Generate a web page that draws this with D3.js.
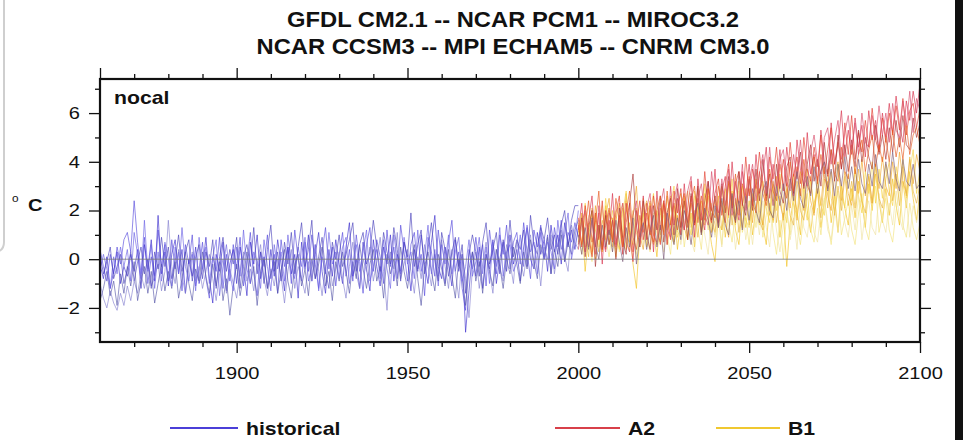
<!DOCTYPE html>
<html>
<head>
<meta charset="utf-8">
<script src="https://cdn.jsdelivr.net/npm/d3@7"></script>
<style>
  body { margin: 0; background: #fff; }
  svg { display: block; font-family: "Liberation Sans", Arial, Helvetica, sans-serif; }
</style>
</head>
<body>
<div id="container"></div>
<script>
var w = 963,
    h = 440;

// text in the picture is a bit wider than a normal sans, stretch it
var SX = 1.18;

var titleLines = ['GFDL CM2.1 -- NCAR PCM1 -- MIROC3.2', 'NCAR CCSM3 -- MPI ECHAM5 -- CNRM CM3.0'];
var regionName = 'nocal';
var legendNames = ['historical', 'A2', 'B1'];

var histYears = d3.range(1860, 2001);
var futYears = d3.range(2000, 2101);

// ---- historical runs, 1860..2000 (one row per decade)
var histGfdl = [
  0.4, -0.3, -0.9, 0.2, -0.6, 0.5, -0.2, 0.8, 1.1, 0.3,
  2.4, 0.7, -0.6, 0.9, -1.0, 0.1, -0.7, 1.2, -0.3, 0.6,
  -0.9, 0.8, -0.4, 0.3, -1.3, 0.6, -0.2, 1.0, -1.1, -0.4,
  0.7, -0.8, -1.6, 0.1, -0.5, 0.9, -1.2, 0.2, -0.9, 0.6,
  -0.4, 0.9, -1.1, -0.2, 1.1, -0.6, -1.5, 0.3, -0.3, 1.0,
  -0.8, 0.2, -1.4, 0.8, -0.3, 0.5, -1.0, 1.2, 0.0, -0.9,
  0.7, -0.5, 1.0, -0.2, -1.2, 0.3, 1.3, -0.4, 0.5, -1.1,
  0.2, 1.1, -0.7, 0.4, -0.9, 1.0, -0.1, -1.4, 0.6, 1.3,
  -0.5, 0.8, 0.1, -1.0, 1.2, -0.3, 0.5, -0.8, 1.4, 0.3,
  -0.9, 0.6, 1.1, -0.4, 0.2, -1.5, 0.9, 0.3, -0.7, 1.2,
  -0.1, -1.0, 0.7, 1.6, -0.5, 0.3, -1.2, -2.1, 0.4, -0.4,
  0.9, -0.3, 0.6, -1.1, 1.2, 0.1, -0.6, 1.0, 0.2, 1.4,
  -0.4, 0.7, 1.1, -0.2, 1.5, 0.3, -0.8, 1.2, 0.5, 1.4,
  0.1, 1.0, -0.6, 1.3, 0.5, 1.6, -0.1, 1.1, 0.7, 1.5,
  0.9
];
var histPcm = [
  -0.2, -0.8, 0.1, -1.2, -0.5, 0.3, -1.0, -0.3, -0.7, 0.2,
  -0.5, 0.4, -1.2, 0.6, -0.4, 0.8, -0.9, 1.8, -0.6, 0.3,
  -1.1, 0.2, 0.8, -0.6, 0.4, -1.4, 0.0, -0.7, 0.5, -1.0,
  -0.4, 0.9, -0.8, -1.8, 0.2, -0.5, 0.7, -1.3, -0.2, 0.4,
  -1.0, 0.5, -0.3, -1.5, 0.7, -0.2, 1.0, -0.8, 0.1, -1.2,
  0.4, -0.7, 0.8, -0.2, -1.3, 0.5, -0.6, 0.2, -1.6, 0.7,
  -0.4, 1.0, -0.9, 0.2, 1.1, -0.5, -1.4, 0.4, -0.7, 0.8,
  -0.2, -1.0, 0.5, 1.5, -0.7, 0.0, -1.2, 0.7, -0.4, -1.3,
  0.8, -0.3, -1.1, 0.5, -0.2, 1.0, -0.9, 0.2, -0.5, 0.7,
  0.0, -1.3, 0.4, -0.5, 1.0, -0.2, -1.0, 0.7, 1.8, -0.3,
  -0.8, 0.5, -0.2, -1.1, 0.8, -0.5, 0.2, -3.0, -1.3, 0.3,
  -0.7, 0.5, -1.2, 0.2, -0.4, 0.8, -1.0, 0.0, 0.7, -0.5,
  1.0, -0.2, 0.4, -0.9, 0.5, 1.3, 0.0, -0.4, 1.1, 0.2,
  0.8, -0.5, 1.4, 0.3, 1.0, -0.2, 1.5, 0.6, 1.2, 0.4,
  1.3
];
var histMiroc = [
  -1.0, -1.6, -2.0, -1.3, -1.8, -2.1, -1.4, -1.9, -1.1, -1.7,
  -0.9, -1.4, -0.6, -1.2, -0.3, -1.1, -0.7, -0.2, -1.3, -0.5,
  1.6, -0.3, -1.0, 0.4, -0.7, -1.4, -0.4, 0.3, -0.9, -0.3,
  -1.2, -0.5, 0.2, -0.8, -1.7, -0.6, 0.0, -1.4, -0.4, -1.0,
  -1.6, -0.5, 0.3, -0.9, -0.4, -1.3, -0.2, 0.6, -0.8, -1.5,
  -0.4, -1.1, 0.0, -0.7, -1.8, -0.5, 0.4, -1.2, -0.3, -0.8,
  -1.4, -0.1, -0.9, 0.6, -0.5, -1.5, -0.3, 0.2, -1.1, -0.4,
  0.3, -0.8, -1.6, -0.3, 0.7, -0.6, -1.2, 0.0, -0.5, 0.5,
  -0.9, -0.1, 0.9, -0.5, -2.1, 0.3, -0.4, 1.1, -0.8, -0.2,
  0.4, -0.5, -1.4, 0.1, -0.8, 0.6, -0.3, -1.1, 0.2, -0.7,
  0.8, -0.3, -1.2, 0.4, -0.5, -1.6, 0.2, -0.8, -2.4, -0.4,
  0.3, -1.2, -0.2, 0.7, -0.5, -1.4, 0.4, -0.3, -0.9, 0.6,
  -0.1, -1.0, 0.7, 0.0, -0.7, 0.3, 1.0, -0.4, 0.2, -1.1,
  0.5, 0.0, 1.0, -0.6, 0.4, 1.2, 0.1, -0.5, 1.4, 0.7,
  0.4
];
var histCcsm = [
  -1.7, -1.2, -0.5, -1.5, -0.9, -1.9, -0.6, -1.4, -0.3, -1.1,
  -0.1, -1.7, -0.9, -0.3, -1.4, -0.5, -1.8, -1.0, -0.2, -1.3,
  -0.5, -1.2, -0.1, -1.6, -0.8, 0.3, -1.0, -1.7, -0.4, -0.9,
  0.3, -0.7, -1.4, -0.2, -1.1, -0.1, -1.7, -0.8, -2.3, -1.1,
  -0.2, -1.5, -0.7, 0.3, -1.0, -0.3, -1.9, -0.5, 0.0, -1.2,
  -0.6, -0.1, -1.4, -0.5, 0.4, -0.9, -1.6, -0.2, 0.2, -1.1,
  -0.4, -1.5, 0.0, -0.8, -0.2, 0.5, -1.1, -0.5, -1.7, -0.1,
  -0.9, 0.3, -0.5, -1.4, -0.1, -0.8, 0.6, -0.4, -1.2, -0.2,
  0.4, -0.9, -0.3, -1.6, 0.2, -0.6, 0.0, -1.1, 0.5, -0.5,
  -1.2, -0.1, 0.6, -0.8, -1.9, -0.3, 0.3, -0.5, -1.3, 0.2,
  -0.4, -1.1, 0.4, -0.7, -1.6, 0.0, -0.8, -1.9, -0.4, 0.3,
  -0.9, -0.1, -1.4, 0.2, -0.5, -1.1, 0.4, -0.3, -1.2, 0.0,
  -0.6, 0.5, -0.2, -1.0, 0.3, -0.4, 0.8, -0.1, -0.8, 0.6,
  0.0, 0.9, -0.6, 0.4, -0.3, 1.0, -0.1, 0.7, 0.2, 1.2,
  1.6
];
var histEcham = [
  -0.5, 0.2, -0.4, -1.2, 0.1, -0.6, 0.5, -0.3, 0.4, -0.9,
  1.1, 0.2, -0.8, 1.6, -0.5, 0.6, -1.2, 0.3, -0.9, 0.7,
  0.0, -1.1, 0.5, -0.6, 1.3, -0.3, -0.9, 0.2, -1.3, 0.9,
  -0.4, 0.5, -1.0, 0.1, 0.8, -1.5, -0.3, 0.6, -0.6, -1.3,
  0.5, -0.7, 1.2, -0.4, -1.0, 0.3, -0.1, -1.2, 0.8, -0.3,
  -1.3, 0.6, -0.4, 0.3, -0.9, 1.0, -0.2, -0.8, 0.5, -0.3,
  0.9, -0.9, -0.3, 0.6, -1.3, 0.1, -0.6, 1.1, -0.2, 0.3,
  -0.8, 0.5, 0.9, -1.0, -0.1, 0.6, -0.5, 0.3, 1.2, -0.9,
  -0.3, 0.4, -0.8, 0.8, -0.4, -1.2, 1.0, 0.0, -0.6, 0.9,
  -0.2, 0.3, -0.8, 1.2, -0.5, 0.1, 1.4, -0.6, 0.4, -1.1,
  0.6, -0.2, 1.0, -0.6, 0.3, 0.9, -0.9, -0.3, 0.8, -0.7,
  -0.1, 0.9, -0.6, 0.5, -1.0, 0.7, -0.3, 1.3, -0.7, 0.3,
  0.6, -0.5, -0.1, 1.0, -0.3, 1.4, 0.3, 0.7, -0.6, 1.1,
  0.0, 0.7, 0.3, -0.4, 1.6, 0.4, 1.0, 1.9, 0.0, 0.8,
  2.0
];
var histCnrm = [
  0.2, -0.6, -0.1, 0.5, -0.8, -0.3, 0.2, -1.0, -0.4, 0.3,
  -0.9, -0.1, 0.5, -0.6, 0.0, -1.2, 0.3, -0.4, 0.9, -0.3,
  0.5, -0.8, -0.1, 1.0, -0.5, 0.3, 0.8, -0.9, 0.1, 0.6,
  -0.8, 0.3, -0.3, 0.8, -1.2, 0.1, 0.9, -0.5, 0.4, -0.2,
  0.9, -1.2, 0.1, 0.6, -0.3, 1.3, -0.6, 0.3, -1.0, 0.4,
  1.4, -0.5, 0.3, -0.9, 0.7, -0.2, 1.1, -0.6, 0.5, 1.5,
  -0.3, 0.4, 1.6, -0.8, 0.1, 0.9, -0.5, -1.2, 0.7, 0.0,
  1.0, -0.3, 0.2, 0.8, 1.5, -0.5, 0.6, 1.1, -0.2, 0.3,
  1.6, 0.5, -0.5, 1.1, 0.3, -0.2, 1.3, 0.4, -0.9, 0.7,
  0.1, 1.9, -0.3, 0.6, 1.2, -0.6, 0.4, 1.5, 0.0, -0.9,
  1.1, 0.4, -0.7, 0.3, 0.9, -0.3, 0.6, -1.4, 0.2, 1.0,
  0.3, -0.7, 0.7, 1.5, -0.2, 0.4, 1.1, -0.6, 0.8, 0.0,
  1.6, 0.1, 0.8, 0.4, 1.2, -0.3, 1.8, 0.6, 0.2, 1.3,
  0.8, 1.7, 0.4, 1.0, 0.2, 1.4, 2.0, 0.5, 1.6, 2.2,
  2.2
];

// ---- A2 runs, 2000..2100
var a2Gfdl = [
  1.2, 2.3, 0.3, 1.6, 2.6, 0.5, 1.9, -0.2, 2.0, 1.0,
  2.7, 0.6, 1.8, 0.2, 2.3, 1.1, -0.1, 2.0, 0.9, 2.6,
  0.8, 2.2, 0.3, 2.8, 1.2, 2.4, 0.6, 3.0, 1.4, 2.5,
  1.0, 3.1, 1.5, 2.6, 0.9, 3.3, 1.9, 1.2, 3.2, 2.0,
  3.7, 1.5, 2.8, 3.4, 1.8, 4.0, 2.3, 1.6, 3.6, 2.6,
  3.9, 2.2, 4.3, 2.7, 3.5, 4.6, 2.5, 3.9, 3.0, 4.5,
  2.8, 4.6, 3.4, 2.6, 4.9, 3.7, 3.0, 5.2, 3.5, 4.3,
  3.2, 5.3, 4.0, 3.4, 5.6, 3.9, 4.7, 6.1, 4.2, 5.3,
  4.3, 5.8, 4.6, 5.5, 4.2, 6.1, 4.9, 5.7, 4.5, 6.0,
  5.0, 6.4, 5.2, 6.7, 5.5, 4.8, 6.5, 5.7, 6.9, 6.0,
  7.2
];
var a2Pcm = [
  1.4, 0.5, 2.2, 1.0, 0.1, 1.9, 0.8, 2.4, 0.4, 1.6,
  0.7, 1.9, 2.6, 0.5, 1.5, 2.3, 0.3, 1.4, 2.4, 0.8,
  1.9, 1.0, 2.6, 1.4, 0.6, 2.3, 1.7, 0.8, 2.8, 1.9,
  2.9, 1.2, 2.1, 3.2, 1.4, 2.5, 1.6, 3.6, 2.0, 1.5,
  2.7, 3.3, 1.8, 3.0, 3.9, 2.1, 3.1, 3.6, 2.2, 4.2,
  2.6, 3.7, 2.9, 4.4, 3.1, 2.4, 4.2, 3.3, 4.6, 2.9,
  4.1, 3.0, 4.8, 3.4, 4.2, 3.1, 5.0, 3.7, 3.2, 4.6,
  3.8, 5.1, 3.5, 4.5, 5.4, 3.9, 4.8, 3.7, 5.6, 4.3,
  5.9, 4.1, 5.2, 4.4, 5.7, 4.6, 6.2, 4.9, 4.4, 5.8,
  4.8, 6.0, 5.1, 6.3, 5.3, 6.6, 5.1, 6.1, 6.4, 5.4,
  6.2
];
var a2Miroc = [
  0.6, 1.7, 0.1, 1.3, 2.0, -0.3, 1.4, 0.4, 1.8, 0.6,
  1.6, 0.0, 2.1, 0.8, 0.2, 2.3, 3.5, 1.4, 0.5, 2.4,
  1.0, 0.4, 2.2, 1.2, 2.6, 0.7, 1.9, 2.5, 1.0, 2.9,
  1.3, 2.4, 0.8, 2.7, 1.5, 3.0, 1.1, 2.4, 3.2, 1.6,
  2.6, 1.3, 3.1, 1.9, 3.4, 2.2, 1.5, 3.6, 2.3, 1.8,
  3.3, 2.0, 3.7, 2.4, 4.1, 2.6, 3.5, 2.2, 3.9, 2.8,
  2.3, 3.8, 4.2, 2.7, 3.6, 4.4, 2.9, 3.9, 4.7, 3.2,
  4.1, 3.0, 4.8, 3.5, 4.5, 3.2, 5.1, 3.7, 4.7, 3.6,
  4.9, 3.8, 5.3, 4.0, 5.0, 4.2, 3.7, 5.5, 4.3, 5.1,
  4.1, 5.4, 4.4, 5.7, 4.6, 5.9, 4.7, 4.5, 5.8, 5.0,
  5.6
];
var a2Ccsm = [
  1.7, 0.6, 1.3, 2.4, 0.7, 1.5, 2.8, 0.4, 1.4, 2.1,
  0.8, 2.5, 1.6, 0.5, 1.9, 2.8, 0.9, 0.4, 1.8, 1.1,
  2.3, 1.2, 0.7, 2.0, 2.6, 1.0, 2.8, 1.4, 2.3, 1.2,
  2.2, 2.7, 1.3, 2.4, 3.0, 1.5, 2.6, 1.6, 2.9, 2.0,
  1.7, 3.0, 2.1, 1.5, 3.2, 2.2, 3.5, 1.8, 3.1, 2.3,
  3.4, 2.3, 1.9, 3.6, 2.7, 2.2, 3.7, 2.8, 2.4, 3.9,
  3.0, 2.5, 4.0, 2.8, 3.8, 2.6, 4.1, 3.0, 2.7, 4.2,
  3.1, 4.3, 3.4, 2.9, 4.5, 3.5, 3.2, 4.6, 3.6, 3.3,
  4.7, 3.5, 4.3, 4.9, 3.6, 4.5, 5.1, 3.8, 4.7, 4.0,
  5.0, 4.0, 5.3, 4.2, 5.0, 4.1, 5.5, 4.3, 5.1, 5.4,
  4.7
];
var a2Echam = [
  0.4, 1.5, 2.0, 0.5, 1.6, 0.2, 2.2, 0.9, 0.3, 1.9,
  1.6, 0.5, 1.3, 2.3, 0.7, 0.3, 1.8, 2.4, 0.6, 1.4,
  2.1, 2.7, 1.0, 0.7, 2.2, 2.9, 1.2, 0.9, 2.4, 3.1,
  1.7, 1.2, 2.8, 3.4, 1.6, 2.5, 3.1, 1.8, 1.4, 3.6,
  2.3, 1.9, 3.3, 2.2, 3.7, 1.8, 3.2, 2.3, 3.9, 2.0,
  3.2, 3.9, 2.4, 3.5, 4.3, 2.7, 4.6, 3.1, 2.6, 4.1,
  4.5, 3.2, 2.8, 4.3, 3.3, 4.9, 3.4, 3.0, 4.4, 5.1,
  4.0, 3.5, 5.0, 5.4, 3.9, 4.9, 5.7, 4.1, 5.2, 5.9,
  4.5, 5.6, 4.3, 6.0, 4.8, 4.6, 5.9, 4.9, 6.3, 5.1,
  6.0, 4.8, 6.4, 5.3, 5.0, 6.5, 5.5, 6.9, 5.2, 6.6,
  6.1
];
var a2Cnrm = [
  1.0, 0.2, 1.3, 0.4, 1.7, 0.6, 0.0, 1.4, 0.5, 1.2,
  0.3, 1.6, 0.7, -0.1, 1.3, 0.5, 1.7, -0.2, 0.9, 1.5,
  0.4, 1.2, 1.8, 0.5, 1.4, 0.0, 1.9, 1.2, 0.6, 1.7,
  0.8, 2.0, 1.5, 0.6, 1.8, 2.3, 1.0, 2.1, 1.6, 0.9,
  2.2, 1.3, 2.5, 1.4, 1.0, 2.7, 1.6, 2.4, 1.2, 2.6,
  1.6, 2.9, 2.0, 1.5, 2.8, 3.2, 2.0, 1.7, 3.0, 2.2,
  3.1, 2.0, 3.3, 2.4, 3.6, 2.5, 2.1, 3.4, 2.6, 3.8,
  2.7, 3.6, 4.0, 2.8, 3.7, 2.6, 3.9, 3.0, 4.2, 2.9,
  3.8, 2.8, 4.1, 3.1, 2.7, 3.9, 3.0, 4.3, 3.2, 2.9,
  4.0, 3.1, 4.4, 3.3, 2.8, 4.1, 3.2, 3.0, 3.9, 2.9,
  3.1
];

// ---- B1 runs, 2000..2100
var b1Gfdl = [
  0.7, 1.6, -0.5, 1.1, 2.0, 0.0, 1.4, 0.3, 2.2, 0.6,
  1.7, 0.1, 1.2, 2.1, 0.4, 1.5, -0.2, -1.2, 1.1, 1.9,
  0.5, 2.3, 1.2, 0.1, 1.8, 2.4, 0.6, 1.5, 2.2, 0.4,
  1.6, 2.5, 0.8, 1.9, 0.5, 2.3, 1.1, 2.7, 1.6, 0.6,
  -0.1, 1.9, 2.4, 0.9, 2.0, 2.8, 1.2, 0.6, 2.3, 1.3,
  2.4, 1.0, 2.1, 2.9, 1.4, 0.6, 2.3, 1.5, 2.7, 0.9,
  1.9, -0.3, 1.5, 2.6, 2.0, 1.0, 3.0, 2.0, 1.1, 2.3,
  2.8, 1.3, 2.4, 3.2, 1.5, 2.6, 1.1, 3.0, 2.1, 1.4,
  2.9, 1.7, 3.2, 2.3, 1.3, 3.1, 2.0, 3.5, 2.4, 1.5,
  2.9, 1.8, 3.3, 2.2, 1.4, 3.2, 2.1, 3.6, 2.5, 1.6,
  2.8
];
var b1Pcm = [
  1.3, 0.2, 1.9, 0.8, -0.1, 1.6, 0.5, 2.2, 0.9, 0.1,
  1.2, 2.0, 0.3, 1.4, 2.4, 0.6, 1.7, 0.2, 1.3, 2.1,
  0.9, 0.3, 1.6, 2.5, 0.7, 1.8, 1.0, 0.2, 2.0, 1.1,
  2.2, 0.5, 1.6, 1.0, 2.6, 1.3, 0.4, 2.1, 1.2, 2.3,
  1.0, 1.9, 0.6, 2.4, 1.5, 0.7, 2.0, 2.8, 1.1, 1.7,
  0.6, 2.2, 1.3, 2.6, 0.9, 1.8, 2.9, 1.1, 0.2, 1.6,
  0.0, 2.0, 1.0, 2.3, 1.4, 0.6, 1.8, 2.7, 1.2, 0.7,
  2.1, 1.0, 2.5, 1.5, 0.6, 1.9, 2.8, 1.0, 1.7, 2.4,
  1.2, 0.6, 1.9, 2.7, 1.3, 0.8, 2.2, 3.0, 1.1, 1.8,
  2.5, 1.2, 0.7, 2.0, 2.9, 1.4, 0.9, 2.3, 1.3, 0.8,
  1.5
];
var b1Miroc = [
  1.1, 1.9, 0.5, 1.5, 0.3, 2.2, 1.0, 0.6, 1.8, 2.5,
  0.5, 1.6, 2.3, 0.9, 2.7, 0.7, 1.8, 3.0, 1.0, 0.4,
  1.7, 2.4, 1.0, 0.6, 2.1, 1.1, 2.6, 1.5, 0.7, 2.2,
  2.7, 1.3, 0.8, 2.3, 1.4, 2.9, 1.0, 2.0, 2.6, 1.5,
  1.1, 2.4, 3.0, 1.6, 0.9, 2.6, 1.7, 3.2, 1.3, 2.5,
  2.9, 1.5, 3.3, 2.0, 1.4, 3.0, 2.1, 1.6, 3.4, 2.3,
  1.7, 3.1, 2.1, 3.5, 1.6, 2.9, 2.0, 3.7, 2.4, 1.8,
  3.2, 2.2, 3.8, 2.6, 2.0, 3.4, 4.0, 2.4, 3.6, 2.7,
  2.2, 3.7, 2.7, 4.1, 2.6, 3.4, 2.3, 3.9, 2.9, 4.2,
  3.0, 2.6, 4.0, 2.9, 4.4, 3.2, 2.7, 4.1, 3.1, 4.3,
  3.6
];
var b1Ccsm = [
  1.5, 0.6, 2.3, 0.9, 0.2, 1.8, 0.8, 0.3, 2.5, 1.1,
  2.0, 0.9, 0.4, 1.9, 2.8, 1.0, 0.6, 2.1, 1.2, 2.5,
  1.0, 1.9, 2.7, 1.1, 0.7, 2.4, 1.2, 2.2, 3.0, 0.9,
  1.4, 2.6, 1.6, 1.0, 2.8, 1.8, 1.2, 3.1, 1.7, 1.1,
  2.6, 1.5, 1.2, 2.9, 1.7, 3.3, 1.4, 2.4, 3.0, 1.6,
  1.3, 2.7, 1.9, 1.4, 3.2, 2.1, 1.5, 3.1, 2.0, 3.5,
  2.1, 1.5, 3.3, 2.3, 1.7, 3.6, 2.4, 1.6, 3.2, 2.0,
  3.4, 2.2, 1.8, 3.7, 2.5, 2.0, 3.9, 2.7, 2.1, 3.5,
  2.4, 3.8, 2.6, 1.9, 3.6, 2.7, 4.0, 2.3, 3.7, 2.5,
  3.9, 2.8, 2.2, 3.8, 2.9, 4.1, 2.5, 3.6, 4.5, 2.7,
  3.7
];
var b1Echam = [
  0.4, 1.3, 0.5, 1.8, 0.7, 0.1, 1.5, 2.0, 0.6, 1.4,
  0.3, 1.2, 1.7, 0.2, 1.0, 1.9, 1.2, 0.0, 1.5, 0.6,
  1.4, 0.4, 1.9, 0.8, 1.6, 0.3, 2.1, 1.0, 0.6, 1.8,
  0.6, 1.5, 2.0, 0.8, 0.3, 1.8, 2.2, 1.0, 0.2, 1.9,
  0.9, 1.6, 0.5, 2.1, 1.1, 1.9, 0.4, 1.5, 2.3, 0.8,
  1.7, 0.6, 2.0, 1.0, 2.4, 1.3, 0.5, 2.2, 1.2, 0.3,
  1.4, 2.1, 0.8, 1.7, 0.4, 2.3, 1.3, 0.9, 2.2, 1.1,
  0.7, 2.0, 2.5, 1.2, 0.8, 2.1, 1.1, 2.4, 1.5, 0.9,
  2.2, 1.2, 2.6, 0.8, 1.9, 2.4, 1.3, 1.0, 2.7, 1.6,
  1.1, 2.3, 1.4, 2.8, 1.7, 1.2, 2.5, 0.9, 2.2, 1.5,
  2.4
];
var b1Cnrm = [
  0.9, 1.8, 1.0, 0.1, 2.1, 1.2, 0.3, 1.6, 0.8, 2.0,
  1.0, 0.4, 1.8, 2.3, 0.9, 0.3, 2.0, 1.1, 0.5, 1.9,
  2.4, 1.1, 0.6, 2.0, 1.0, 2.2, 1.2, 2.6, 0.7, 1.8,
  1.0, 2.2, 2.8, 1.3, 2.0, 0.9, 2.4, 1.4, 2.9, 1.1,
  1.6, 2.6, 1.2, 2.1, 3.1, 1.4, 2.5, 1.1, 2.2, 2.9,
  1.4, 2.5, 3.0, 1.6, 1.2, 2.7, 1.8, 3.2, 1.5, 2.6,
  1.6, 2.9, 1.8, 1.4, 3.2, 2.0, 1.6, 2.8, 3.4, 1.9,
  2.9, 1.7, 3.3, 2.1, 3.6, 1.8, 3.0, 2.0, 3.4, 2.2,
  3.2, 2.1, 3.7, 2.4, 1.9, 3.5, 2.3, 3.9, 2.5, 2.1,
  3.3, 4.0, 2.4, 3.5, 2.2, 3.8, 2.6, 4.2, 2.8, 2.3,
  3.1
];

var histRuns = [histGfdl, histPcm, histMiroc, histCcsm, histEcham, histCnrm];
var a2Runs = [a2Gfdl, a2Pcm, a2Miroc, a2Ccsm, a2Echam, a2Cnrm];
var b1Runs = [b1Gfdl, b1Pcm, b1Miroc, b1Ccsm, b1Echam, b1Cnrm];

var histColors = ['#5548dc', '#3a2ccc', '#8580d0', '#5656a8', '#6a60e4', '#4a42bc'];
var a2Colors = ['#d8304a', '#e33a2a', '#a83232', '#e8581c', '#d84a6a', '#7a5a78'];
var b1Colors = ['#f2c21e', '#f3e27a', '#f0a526', '#f5d340', '#efe3a0', '#e9b43a'];
var legendColors = ['#4b3fd8', '#d8404a', '#f0c830'];

// ----------------------------------------------
var box = { left: 100, right: 920, top: 79, bottom: 342 };

var x = d3.scaleLinear().domain([1860, 2100]).range([box.left, box.right]);
var y = d3.scaleLinear().domain([-3.4, 7.4]).range([box.bottom, box.top]);

var svg = d3.select('#container')
    .append('svg')
    .attr('width', w)
    .attr('height', h);

// stretched text helper
var addText = function(parent, px, py, str, size, weight, anchor, sx) {
    return parent.append('text')
        .attr('transform', 'translate(' + px + ',' + py + ') scale(' + (sx || SX) + ',1)')
        .attr('text-anchor', anchor || 'start')
        .attr('font-size', size)
        .attr('font-weight', weight || 'normal')
        .attr('fill', '#111')
        .text(str);
};

// page leftovers: screenshot edge on the left, black strip on the right
svg.append('path')
    .attr('d', 'M4,0 V242 Q4,252 -6,252')
    .attr('fill', 'none')
    .attr('stroke', '#cfcfcf')
    .attr('stroke-width', 2);
svg.append('rect')
    .attr('x', 955).attr('y', 0)
    .attr('width', 8).attr('height', h)
    .attr('fill', '#111');

// title
titleLines.forEach(function(t, i) {
    addText(svg, 513, 27 + i * 27, t, 22, 'bold', 'middle', 1.08);
});

// data lines
var clipId = 'plotclip';
svg.append('clipPath').attr('id', clipId)
    .append('rect')
    .attr('x', box.left).attr('y', box.top)
    .attr('width', box.right - box.left).attr('height', box.bottom - box.top);

var plot = svg.append('g').attr('clip-path', 'url(#' + clipId + ')');

var drawRuns = function(runs, years, colors, cls) {
    var line = d3.line()
        .x(function(d, i) { return x(years[i]); })
        .y(function(d) { return y(d); });
    plot.selectAll('.' + cls)
        .data(runs)
        .enter()
        .append('path')
        .attr('class', cls)
        .attr('d', line)
        .attr('fill', 'none')
        .attr('stroke', function(d, i) { return colors[i]; })
        .attr('stroke-width', 0.8)
        .attr('stroke-opacity', 0.8);
};

drawRuns(histRuns, histYears, histColors, 'hist');
drawRuns(b1Runs, futYears, b1Colors, 'b1');
drawRuns(a2Runs, futYears, a2Colors, 'a2');

// zero line
svg.append('line')
    .attr('x1', box.left).attr('x2', box.right)
    .attr('y1', y(0)).attr('y2', y(0))
    .attr('stroke', '#777')
    .attr('stroke-width', 0.8);

// axes: major + minor ticks on all four sides
var majorX = d3.range(1900, 2101, 50);
var minorX = d3.range(1870, 2100, 10).filter(function(v) { return v % 50 !== 0; });
var majorY = d3.range(-2, 7, 2);
var minorY = [-3, -1, 1, 3, 5, 7];

var styleAxis = function(g) {
    g.select('.domain').remove();
    g.selectAll('line').attr('stroke', '#111').attr('stroke-width', 1.3);
};

svg.append('g').attr('transform', 'translate(0,' + box.bottom + ')')
    .call(d3.axisBottom(x).tickValues(minorX).tickSize(5).tickFormat(''))
    .call(styleAxis);
var xb = svg.append('g').attr('transform', 'translate(0,' + box.bottom + ')')
    .call(d3.axisBottom(x).tickValues(majorX).tickSize(11).tickPadding(14).tickFormat(d3.format('d')))
    .call(styleAxis);
svg.append('g').attr('transform', 'translate(0,' + box.top + ')')
    .call(d3.axisTop(x).tickValues(minorX).tickSize(5).tickFormat(''))
    .call(styleAxis);
svg.append('g').attr('transform', 'translate(0,' + box.top + ')')
    .call(d3.axisTop(x).tickValues([1860].concat(majorX)).tickSize(11).tickFormat(''))
    .call(styleAxis);

svg.append('g').attr('transform', 'translate(' + box.left + ',0)')
    .call(d3.axisLeft(y).tickValues(minorY).tickSize(5).tickFormat(''))
    .call(styleAxis);
var yl = svg.append('g').attr('transform', 'translate(' + box.left + ',0)')
    .call(d3.axisLeft(y).tickValues(majorY).tickSize(11).tickFormat(d3.format('d')))
    .call(styleAxis);
svg.append('g').attr('transform', 'translate(' + box.right + ',0)')
    .call(d3.axisRight(y).tickValues(minorY).tickSize(5).tickFormat(''))
    .call(styleAxis);
svg.append('g').attr('transform', 'translate(' + box.right + ',0)')
    .call(d3.axisRight(y).tickValues(majorY).tickSize(11).tickFormat(''))
    .call(styleAxis);

xb.selectAll('text')
    .attr('font-size', 17)
    .attr('font-family', '"Liberation Sans", Arial, sans-serif')
    .attr('fill', '#111')
    .attr('transform', 'scale(' + SX + ',1)');
yl.selectAll('text')
    .attr('font-size', 17)
    .attr('font-family', '"Liberation Sans", Arial, sans-serif')
    .attr('fill', '#111')
    .attr('x', -20 / SX)
    .attr('transform', 'scale(' + SX + ',1)');

// frame
svg.append('rect')
    .attr('x', box.left).attr('y', box.top)
    .attr('width', box.right - box.left).attr('height', box.bottom - box.top)
    .attr('fill', 'none')
    .attr('stroke', '#111')
    .attr('stroke-width', 2.2);

// region label and unit
addText(svg, 114, 104, regionName, 18, 'bold');
addText(svg, 12, 202, 'o', 10, 'normal');
addText(svg, 28, 211, 'C', 17, 'bold');

// legend
var legendItems = [
    { name: legendNames[0], color: legendColors[0], x1: 170, x2: 238 },
    { name: legendNames[1], color: legendColors[1], x1: 555, x2: 620 },
    { name: legendNames[2], color: legendColors[2], x1: 716, x2: 780 }
];
var legend = svg.append('g').attr('class', 'legend');
legendItems.forEach(function(it) {
    legend.append('line')
        .attr('x1', it.x1).attr('x2', it.x2)
        .attr('y1', 428).attr('y2', 428)
        .attr('stroke', it.color)
        .attr('stroke-width', 2);
    addText(legend, it.x2 + 8, 435, it.name, 18, 'bold');
});
</script>
</body>
</html>
